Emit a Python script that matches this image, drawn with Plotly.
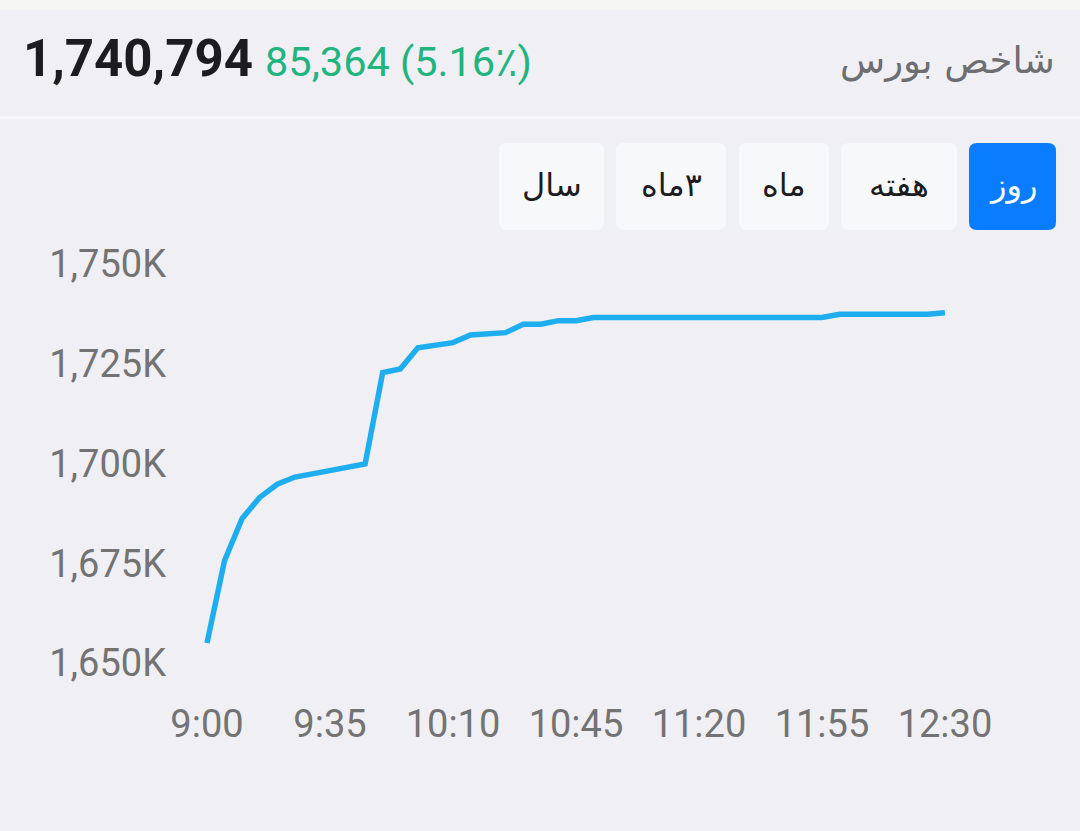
import pandas as pd
import plotly.graph_objects as go

# ---------------- data ----------------
title_fa = "شاخص بورس"
last_value_text = "1,740,794"
change_text = "85,364 (5.16٪)"
range_buttons = ["روز", "هفته", "ماه", "۳ماه", "سال"]
active_button = "روز"

times = ["09:00", "09:05", "09:10", "09:15", "09:20", "09:25", "09:30", "09:35",
         "09:40", "09:45", "09:50", "09:55", "10:00", "10:05", "10:10", "10:15",
         "10:20", "10:25", "10:30", "10:35", "10:40", "10:45", "10:50", "10:55",
         "11:00", "11:05", "11:10", "11:15", "11:20", "11:25", "11:30", "11:35",
         "11:40", "11:45", "11:50", "11:55", "12:00", "12:05", "12:10", "12:15",
         "12:20", "12:25", "12:30"]
index_k = [1655.0, 1675.7, 1686.2, 1691.5, 1694.8, 1696.6, 1697.4, 1698.2,
           1699.0, 1699.9, 1722.8, 1723.7, 1729.0, 1729.6, 1730.3, 1732.2,
           1732.5, 1732.8, 1734.9, 1734.9, 1735.8, 1735.8, 1736.6, 1736.6,
           1736.6, 1736.6, 1736.6, 1736.6, 1736.6, 1736.6, 1736.6, 1736.6,
           1736.6, 1736.6, 1736.6, 1736.6, 1737.4, 1737.4, 1737.4, 1737.4,
           1737.4, 1737.4, 1737.8]
y_tick_vals = [1650, 1675, 1700, 1725, 1750]
y_tick_text = ["1,650K", "1,675K", "1,700K", "1,725K", "1,750K"]

# ---------------- layout constants ----------------
W, H = 1080, 831
BG = "#efeff4"
DAY = "2024-01-01 "
x = pd.to_datetime([DAY + t for t in times])

# plot area in page pixels
PL, PR, PT, PB = 180, 1000, 250, 680
t0 = pd.Timestamp(DAY + "09:00")
px_per_min = 3.514
x_left = t0 + pd.Timedelta(minutes=(PL - 207) / px_per_min)
x_right = t0 + pd.Timedelta(minutes=(PR - 207) / px_per_min)
px_per_k = 3.99
y_top = 1650 + (663 - PT) / px_per_k
y_bot = 1650 - (PB - 663) / px_per_k

fig = go.Figure()
fig.add_trace(go.Scatter(x=x, y=index_k, mode="lines",
                         line=dict(color="#1eaef0", width=5.5),
                         hoverinfo="skip", showlegend=False))
# empty helper trace for the page-pixel overlay axes
fig.add_trace(go.Scatter(x=[], y=[], xaxis="x2", yaxis="y2", showlegend=False,
                         hoverinfo="skip"))

def rrect(x0, y0, x1, y1, r):
    return (f"M {x0+r},{y0} L {x1-r},{y0} Q {x1},{y0} {x1},{y0+r} "
            f"L {x1},{y1-r} Q {x1},{y1} {x1-r},{y1} L {x0+r},{y1} "
            f"Q {x0},{y1} {x0},{y1-r} L {x0},{y0+r} Q {x0},{y0} {x0+r},{y0} Z")

shapes = [
    dict(type="rect", xref="x2", yref="y2", x0=0, x1=W, y0=0, y1=10,
         fillcolor="#f6f6f4", line=dict(width=0), layer="below"),
    dict(type="rect", xref="x2", yref="y2", x0=0, x1=W, y0=116, y1=119,
         fillcolor="#f7f7f9", line=dict(width=0), layer="below"),
]
btn_boxes = [(969, 1056), (841, 957), (739, 829), (616, 726), (499, 604)]
annotations = []
for label, (bx0, bx1) in zip(range_buttons, btn_boxes):
    active = label == active_button
    shapes.append(dict(type="path", xref="x2", yref="y2",
                       path=rrect(bx0, 143, bx1, 230, 8),
                       fillcolor="#0a7cff" if active else "#f7f8fa",
                       line=dict(width=0), layer="below"))
    annotations.append(dict(xref="x2", yref="y2", x=(bx0 + bx1) / 2, y=185,
                            text="\u200f" + label, showarrow=False,
                            xanchor="center", yanchor="middle",
                            font=dict(family="DejaVu Sans, Noto Sans", size=32,
                                      color="#ffffff" if active else "#1c1c1e")))

annotations += [
    dict(xref="x2", yref="y2", x=21, y=58, text=f"<b>{last_value_text}</b>",
         showarrow=False, xanchor="left", yanchor="middle",
         font=dict(family="Roboto", size=51, color="#1c1c1e")),
    dict(xref="x2", yref="y2", x=263, y=61, text=change_text,
         showarrow=False, xanchor="left", yanchor="middle",
         font=dict(family="Roboto, DejaVu Sans", size=41.5, color="#22b47f")),
    dict(xref="x2", yref="y2", x=1057, y=60, text=title_fa,
         showarrow=False, xanchor="right", yanchor="middle",
         font=dict(family="DejaVu Sans, Noto Sans", size=37, color="#6d6d72")),
]

fig.update_layout(
    width=W, height=H, margin=dict(l=0, r=0, t=0, b=0),
    paper_bgcolor=BG, plot_bgcolor="rgba(0,0,0,0)",
    showlegend=False, hovermode=False,
    xaxis=dict(domain=[PL / W, PR / W], range=[x_left, x_right], type="date",
               tick0=DAY + "09:00", dtick=35 * 60 * 1000, tickformat="%-H:%M",
               showgrid=False, zeroline=False, showline=False, ticks="",
               ticklabelstandoff=18, automargin=False,
               tickfont=dict(family="Roboto", size=38, color="#737373"),
               fixedrange=True),
    yaxis=dict(domain=[(H - PB) / H, (H - PT) / H], range=[y_bot, y_top],
               tickvals=y_tick_vals, ticktext=y_tick_text,
               showgrid=False, zeroline=False, showline=False, ticks="",
               ticklabelstandoff=13, automargin=False,
               tickfont=dict(family="Roboto", size=38, color="#737373"),
               fixedrange=True),
    xaxis2=dict(domain=[0, 1], range=[0, W], anchor="y2", visible=False,
                fixedrange=True, automargin=False),
    yaxis2=dict(domain=[0, 1], range=[H, 0], anchor="x2", visible=False,
                fixedrange=True, automargin=False),
    shapes=shapes, annotations=annotations,
)

fig.write_html(
    "out.html", config={"displayModeBar": False, "staticPlot": True},
    post_script=("document.documentElement.style.margin='0';"
                 "document.body.style.margin='0';"
                 "document.body.style.padding='0';"
                 "document.body.style.background='#efeff4';"
                 "var gd=document.getElementById('{plot_id}');"
                 "gd.style.position='fixed';gd.style.left='0px';"
                 "gd.style.top='0px';"))
